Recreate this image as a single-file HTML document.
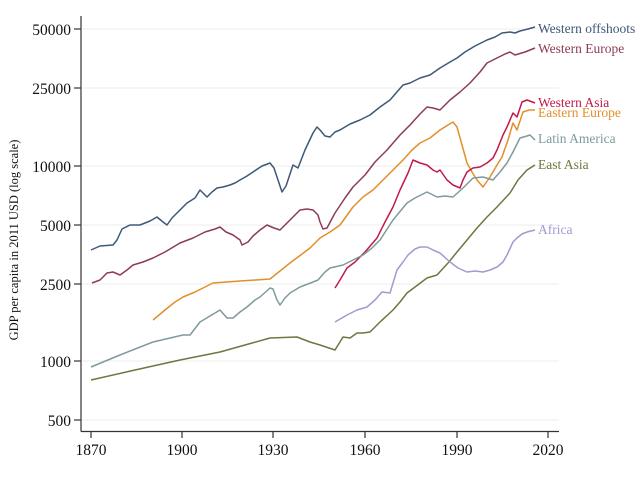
<!DOCTYPE html>
<html><head><style>body{margin:0;background:#fff}</style></head><body>
<svg width="640" height="480" xmlns="http://www.w3.org/2000/svg" font-family="Liberation Serif, serif">
<rect width="640" height="480" fill="#fff"/>
<g stroke="#eeeeee" stroke-width="1">
<line x1="82" y1="29" x2="559" y2="29"/><line x1="82" y1="88" x2="559" y2="88"/><line x1="82" y1="166" x2="559" y2="166"/><line x1="82" y1="225" x2="559" y2="225"/><line x1="82" y1="284" x2="559" y2="284"/><line x1="82" y1="361" x2="559" y2="361"/><line x1="82" y1="420" x2="559" y2="420"/>
</g>
<g stroke="#333" stroke-width="1.2">
<line x1="81" y1="16" x2="81" y2="431.5"/><line x1="81" y1="431.5" x2="559" y2="431.5"/>
<line x1="74" y1="29" x2="81" y2="29"/><line x1="74" y1="88" x2="81" y2="88"/><line x1="74" y1="166" x2="81" y2="166"/><line x1="74" y1="225" x2="81" y2="225"/><line x1="74" y1="284" x2="81" y2="284"/><line x1="74" y1="361" x2="81" y2="361"/><line x1="74" y1="420" x2="81" y2="420"/>
<line x1="91" y1="431" x2="91" y2="438"/><line x1="182" y1="431" x2="182" y2="438"/><line x1="273" y1="431" x2="273" y2="438"/><line x1="365" y1="431" x2="365" y2="438"/><line x1="457" y1="431" x2="457" y2="438"/><line x1="548" y1="431" x2="548" y2="438"/>
</g>
<g font-size="15.5" fill="#111" text-anchor="end">
<text x="71" y="35">50000</text><text x="71" y="94">25000</text><text x="71" y="172">10000</text><text x="71" y="231">5000</text><text x="71" y="290">2500</text><text x="71" y="367">1000</text><text x="71" y="426">500</text>
</g>
<g font-size="15.5" fill="#111" text-anchor="middle">
<text x="91" y="455">1870</text><text x="182" y="455">1900</text><text x="273" y="455">1930</text><text x="365" y="455">1960</text><text x="457" y="455">1990</text><text x="548" y="455">2020</text>
</g>
<text transform="translate(18,240) rotate(-90)" font-size="12.5" fill="#111" text-anchor="middle">GDP per capita in 2011 USD (log scale)</text>
<g fill="none" stroke-width="1.5" stroke-linejoin="round">
<polyline stroke="#3e5878" points="91,250 100,246 113,245 117,240 122,229 130,225 140,225 150,221 157,217 163,222 167,225 172,218 180,210 187,203 195,198 200,190 207,197 212,192 217,188 223,187 230,185 235,183 240,180 247,176 253,172 262,166 270,163 274,168 277,177 282,192 286,186 293,165 298,168 305,150 313,133 317,127 320,130 325,136 330,137 335,132 340,130 350,124 360,120 370,115 380,107 390,100 403,85 410,83 420,78 430,75 440,68 450,62 457,58 465,52 475,46 487,40 495,37 502,33 510,32 515,33 520,31 528,29 535,27"/>
<polyline stroke="#8d3b58" points="92,283 100,280 107,273 113,272 120,275 127,270 133,265 143,262 153,258 165,252 180,243 193,238 205,232 215,229 220,227 226,232 233,235 240,240 242,245 248,242 253,236 260,230 267,225 274,228 280,230 290,220 300,210 307,209 313,210 318,215 320,222 323,229 327,228 335,213 345,198 353,187 365,175 375,162 387,150 400,135 410,125 420,114 427,107 433,108 440,110 450,100 460,92 470,83 480,72 487,63 497,58 505,54 510,52 515,55 525,52 535,48"/>
<polyline stroke="#e28f2a" points="153,320 165,310 175,302 183,297 195,292 213,283 240,281 270,279 290,263 310,248 320,238 330,232 340,225 353,207 363,197 373,190 385,178 395,168 403,160 412,150 420,143 430,138 440,130 448,125 453,122 457,127 462,145 467,163 472,172 477,180 483,187 490,177 497,165 502,157 508,140 513,123 517,130 523,112 529,110 535,110"/>
<polyline stroke="#c01a4a" points="335,288 340,280 347,268 355,262 365,252 377,238 385,222 393,207 400,190 408,173 413,160 420,163 427,165 433,170 437,172 440,170 447,180 453,185 460,188 463,180 467,172 473,168 480,167 487,163 493,158 497,150 503,135 507,127 513,113 517,117 522,102 527,100 535,103"/>
<polyline stroke="#7f9a9d" points="91,367 120,355 153,342 183,335 190,335 200,322 210,316 220,310 227,318 233,318 240,312 247,307 255,300 260,297 270,288 273,289 277,300 280,305 285,298 290,293 300,287 313,282 318,280 325,272 330,268 343,265 353,260 363,255 372,248 380,240 393,220 407,203 415,198 427,192 437,197 445,196 453,197 463,188 473,178 483,177 493,180 500,172 507,163 513,152 520,138 527,136 530,135 535,140"/>
<polyline stroke="#6b7840" points="91,380 135,370 180,360 220,352 245,345 270,338 297,337 310,342 320,345 335,350 343,337 350,338 357,333 363,333 370,332 380,322 393,310 400,302 407,293 415,287 427,278 437,275 448,263 457,252 467,240 477,228 487,217 497,207 510,193 518,180 527,170 535,165"/>
<polyline stroke="#9f9bd0" points="335,322 347,315 357,310 367,307 375,300 382,292 390,293 397,270 403,262 408,255 415,249 420,247 427,247 433,250 440,253 450,262 458,268 467,272 475,271 483,272 490,270 497,267 503,262 507,255 513,242 517,238 522,234 527,232 535,230"/>
</g>
<g font-size="13.5">
<text x="538" y="33" fill="#3e5878">Western offshoots</text>
<text x="538" y="53" fill="#8d3b58">Western Europe</text>
<text x="538" y="107" fill="#c01a4a">Western Asia</text>
<text x="538" y="117" fill="#e28f2a">Eastern Europe</text>
<text x="538" y="143" fill="#7f9a9d">Latin America</text>
<text x="538" y="169" fill="#6b7840">East Asia</text>
<text x="538" y="234" fill="#9f9bd0">Africa</text>
</g>
</svg>
</body></html>
